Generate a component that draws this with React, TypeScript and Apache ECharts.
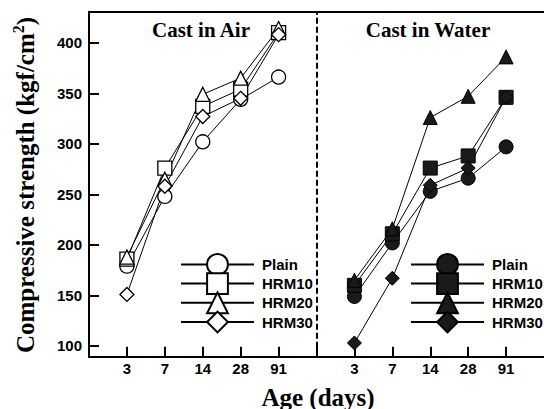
import React, { useEffect, useRef } from 'react';
import * as echarts from 'echarts';

const ages = ['3', '7', '14', '28', '91'];
const mixes = ['Plain', 'HRM10', 'HRM20', 'HRM30'];
const markerShapes = ['circle', 'rect', 'triangle', 'diamond'];

// Cast in Air (kgf/cm2)
const airPlain = [179, 248, 302, 344, 366];
const airHRM10 = [186, 276, 337, 354, 410];
const airHRM20 = [188, 265, 349, 365, 414];
const airHRM30 = [151, 258, 327, 345, 408];

// Cast in Water (kgf/cm2)
const waterPlain = [149, 202, 253, 266, 297];
const waterHRM10 = [160, 211, 276, 288, 346];
const waterHRM20 = [165, 216, 326, 347, 386];
const waterHRM30 = [103, 167, 259, 276, 346];

const yTicks = [100, 150, 200, 250, 300, 350, 400];
const xTickPositions = [1, 2, 3, 4, 5, 6, 7, 8, 9, 10, 11];
const xLabelPositions = [1, 2, 3, 4, 5, 7, 8, 9, 10, 11];

const SANS = '"Liberation Sans", Arial, sans-serif';
const SERIF = '"Liberation Serif", "Times New Roman", serif';

export default function App() {
  const ref = useRef<HTMLDivElement>(null);

  useEffect(() => {
    if (!ref.current) return;
    const chart = echarts.init(ref.current, null, { renderer: 'svg' });

    const airSets = [airPlain, airHRM10, airHRM20, airHRM30];
    const waterSets = [waterPlain, waterHRM10, waterHRM20, waterHRM30];
    const series: any[] = [];
    mixes.forEach((m, k) => {
      const s: any = {
        type: 'line',
        name: m,
        data: airSets[k].map((v, i) => [i + 1, v]),
        symbol: markerShapes[k],
        symbolSize: 14,
        lineStyle: { color: '#000', width: 1 },
        itemStyle: { color: '#fff', borderColor: '#000', borderWidth: 1.3 },
        z: 3,
      };
      if (k === 0) {
        s.markLine = {
          silent: true,
          symbol: 'none',
          label: { show: false },
          lineStyle: { type: [6, 3], color: '#000', width: 2 },
          data: [{ xAxis: 6 }],
        };
      }
      series.push(s);
    });
    mixes.forEach((m, k) => {
      series.push({
        type: 'line',
        name: m + ' (W)',
        data: waterSets[k].map((v, i) => [i + 7, v]),
        symbol: markerShapes[k],
        symbolSize: 14,
        lineStyle: { color: '#000', width: 1 },
        itemStyle: { color: '#1a1a1a', borderColor: '#000', borderWidth: 1 },
        z: 3,
      });
    });

    const legendBase = {
      orient: 'vertical',
      top: 253,
      padding: 0,
      itemWidth: 73,
      itemHeight: 26,
      itemGap: -3.6,
      selectedMode: false,
      textStyle: {
        fontFamily: SANS,
        fontWeight: 'bold',
        fontSize: 15,
        color: '#000',
        padding: [0, 0, 0, 3],
      },
    };

    chart.setOption({
      animation: false,
      backgroundColor: '#fff',
      grid: { left: 89, right: -5, top: 11.7, bottom: 52.3 },
      xAxis: [
        {
          type: 'value',
          min: 0,
          max: 12,
          position: 'bottom',
          axisLine: { show: true, onZero: false, lineStyle: { color: '#000', width: 2 } },
          axisTick: {
            show: true,
            inside: true,
            length: 10,
            customValues: xTickPositions,
            lineStyle: { color: '#000', width: 2 },
          },
          axisLabel: {
            customValues: xLabelPositions,
            formatter: (v: number) => (v <= 5 ? ages[v - 1] : ages[v - 7]) || '',
            fontFamily: SANS,
            fontWeight: 'bold',
            fontSize: 15,
            color: '#000',
            margin: 4,
          },
          splitLine: { show: false },
        },
        {
          type: 'value',
          min: 0,
          max: 12,
          position: 'top',
          axisLine: { show: true, onZero: false, lineStyle: { color: '#000', width: 2 } },
          axisTick: { show: false },
          axisLabel: { show: false },
          splitLine: { show: false },
        },
      ],
      yAxis: {
        type: 'value',
        min: 89.4,
        max: 430.7,
        axisLine: { show: true, onZero: false, lineStyle: { color: '#000', width: 2 } },
        axisTick: {
          show: true,
          inside: true,
          length: 10,
          customValues: yTicks,
          lineStyle: { color: '#000', width: 2 },
        },
        axisLabel: {
          customValues: yTicks,
          fontFamily: SANS,
          fontWeight: 'bold',
          fontSize: 15,
          color: '#000',
          margin: 7,
        },
        splitLine: { show: false },
      },
      legend: [
        { ...legendBase, left: 180, data: mixes },
        {
          ...legendBase,
          left: 410,
          data: mixes.map((m) => m + ' (W)'),
          formatter: (name: string) => name.replace(' (W)', ''),
        },
      ],
      graphic: [
        {
          type: 'text',
          x: 201,
          y: 30,
          style: {
            text: 'Cast in Air',
            font: `bold 21px ${SERIF}`,
            fill: '#000',
            align: 'center',
            verticalAlign: 'middle',
          },
        },
        {
          type: 'text',
          x: 428,
          y: 30,
          style: {
            text: 'Cast in Water',
            font: `bold 21px ${SERIF}`,
            fill: '#000',
            align: 'center',
            verticalAlign: 'middle',
          },
        },
        {
          type: 'text',
          x: 318,
          y: 397,
          style: {
            text: 'Age (days)',
            font: `bold 25px ${SERIF}`,
            fill: '#000',
            align: 'center',
            verticalAlign: 'middle',
          },
        },
        {
          type: 'text',
          x: 24,
          y: 185,
          rotation: Math.PI / 2,
          style: {
            text: '{a|Compressive strength (kgf/cm}{s|2}{a|)}',
            rich: {
              a: { fontFamily: SERIF, fontWeight: 'bold', fontSize: 25, lineHeight: 28, fill: '#000', verticalAlign: 'bottom' },
              s: { fontFamily: SERIF, fontWeight: 'bold', fontSize: 16, lineHeight: 28, fill: '#000', verticalAlign: 'top' },
            },
            align: 'center',
            verticalAlign: 'middle',
          },
        },
      ],
      series,
    });

    return () => chart.dispose();
  }, []);

  return (
    <div
      ref={ref}
      style={{ position: 'fixed', left: 0, top: 0, width: 544, height: 409 }}
    />
  );
}
